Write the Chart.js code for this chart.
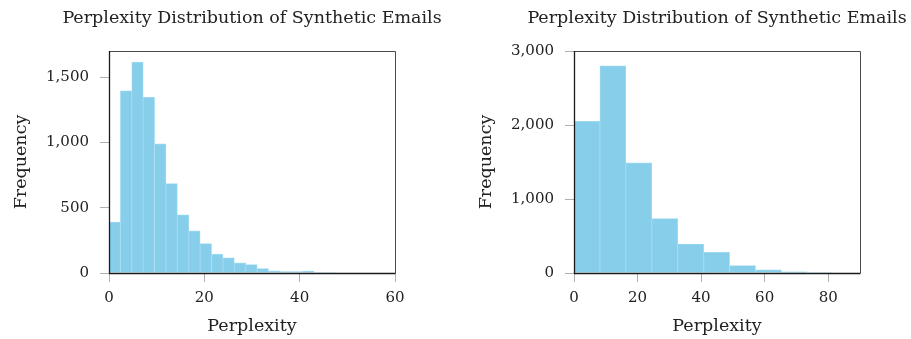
<!DOCTYPE html>
<html>
<head>
<meta charset="utf-8">
<script src="https://cdn.jsdelivr.net/npm/chart.js@4/dist/chart.umd.min.js"></script>
<style>
  html, body { margin: 0; padding: 0; background: #ffffff; }
  body { width: 911px; height: 339px; position: relative; overflow: hidden; }
  .panel { position: absolute; top: 0; height: 339px; }
  #leftPanel { left: 0; width: 465px; }
  #rightPanel { left: 465px; width: 446px; }
</style>
</head>
<body>
<div class="panel" id="leftPanel"><canvas id="leftChart" width="465" height="339"></canvas></div>
<div class="panel" id="rightPanel"><canvas id="rightChart" width="446" height="339"></canvas></div>
<script>
// Histogram bins (centres) and counts, narrow-bin version
const leftBinCenters = [1.195, 3.585, 5.975, 8.365, 10.755, 13.145, 15.535, 17.925, 20.315, 22.705,
                        25.095, 27.485, 29.875, 32.265, 34.655, 37.045, 39.435, 41.825, 44.215, 46.605];
const leftCounts = [390, 1395, 1615, 1345, 990, 685, 445, 322, 226, 144,
                    116, 77, 65, 34, 16, 11, 11, 14, 4, 4];

// Histogram bins (centres) and counts, wide-bin version
const rightBinCenters = [4.08, 12.24, 20.4, 28.56, 36.72, 44.88, 53.04, 61.2, 69.36, 77.52];
const rightCounts = [2050, 2800, 1490, 735, 390, 280, 100, 42, 15, 7];

// Tick values
const leftXTicks = [0, 20, 40, 60];
const leftYTicks = [0, 500, 1000, 1500];
const rightXTicks = [0, 20, 40, 60, 80];
const rightYTicks = [0, 1000, 2000, 3000];

const titleText = 'Perplexity Distribution of Synthetic Emails';
const xTitle = 'Perplexity';
const yTitle = 'Frequency';

const SERIF = "'DejaVu Serif', 'Liberation Serif', serif";
const textColor = '#222222';
const barFill = 'rgb(135, 206, 235)';
const barEdge = 'rgb(165, 220, 242)';

// Axis box: dark left/bottom axis lines, thinner top/right frame
const framePlugin = {
  id: 'frame',
  afterDatasetsDraw(chart) {
    const { ctx, chartArea: a } = chart;
    ctx.save();
    ctx.strokeStyle = '#4a4a4a';
    ctx.lineWidth = 1;
    ctx.beginPath();
    ctx.moveTo(a.left, a.top + 0.5);
    ctx.lineTo(a.right + 0.5, a.top + 0.5);
    ctx.lineTo(a.right + 0.5, a.bottom);
    ctx.stroke();
    ctx.strokeStyle = '#1a1a1a';
    ctx.lineWidth = 1.3;
    ctx.beginPath();
    ctx.moveTo(a.left + 0.5, a.top);
    ctx.lineTo(a.left + 0.5, a.bottom + 0.5);
    ctx.lineTo(a.right + 0.5, a.bottom + 0.5);
    ctx.stroke();
    ctx.restore();
  }
};

// Title centred over the plot area; it is wider than the plot, so it is not width-limited
const plotTitlePlugin = {
  id: 'plotTitle',
  afterDraw(chart, args, opts) {
    const { ctx, chartArea: a } = chart;
    ctx.save();
    ctx.font = `normal ${opts.size}px ${SERIF}`;
    ctx.fillStyle = textColor;
    ctx.textAlign = 'center';
    ctx.textBaseline = 'middle';
    ctx.fillText(opts.text, (a.left + a.right) / 2, opts.y);
    ctx.restore();
  }
};

function makeHistogram(canvasId, centers, counts, xMax, yMax, xTicks, yTicks, padRight) {
  const points = centers.map((c, i) => ({ x: c, y: counts[i] }));
  return new Chart(document.getElementById(canvasId), {
    type: 'bar',
    data: {
      datasets: [{
        data: points,
        backgroundColor: barFill,
        borderColor: barEdge,
        borderWidth: 0.8,
        barPercentage: 1.0,
        categoryPercentage: 1.0,
        borderSkipped: 'bottom'
      }]
    },
    options: {
      responsive: false,
      animation: false,
      devicePixelRatio: 1,
      layout: { padding: { left: 0, right: padRight, top: 51, bottom: 0 } },
      plugins: {
        legend: { display: false },
        tooltip: { enabled: false },
        title: { display: false },
        plotTitle: { text: titleText, size: 17.5, y: 18.5 }
      },
      scales: {
        x: {
          type: 'linear',
          min: 0,
          max: xMax,
          offset: false,
          afterBuildTicks(scale) { scale.ticks = xTicks.map(v => ({ value: v })); },
          afterFit(scale) { scale.height = 66; },
          ticks: {
            color: textColor,
            font: { family: SERIF, size: 15, lineHeight: 1.2 },
            padding: 7,
            maxRotation: 0,
            autoSkip: false
          },
          grid: {
            display: true,
            drawOnChartArea: false,
            drawTicks: true,
            tickLength: 9,
            tickColor: '#b0b0b0',
            tickWidth: 1,
            offset: false
          },
          border: { display: false },
          title: {
            display: true,
            text: xTitle,
            color: textColor,
            font: { family: SERIF, size: 17.5, lineHeight: 1.2 },
            padding: { top: 0, bottom: 2 }
          }
        },
        y: {
          type: 'linear',
          min: 0,
          max: yMax,
          afterBuildTicks(scale) { scale.ticks = yTicks.map(v => ({ value: v })); },
          afterFit(scale) { scale.width = 109; },
          ticks: {
            color: textColor,
            font: { family: SERIF, size: 15, lineHeight: 1.2 },
            padding: 11,
            callback: v => v.toLocaleString('en-US')
          },
          grid: {
            display: true,
            drawOnChartArea: false,
            drawTicks: true,
            tickLength: 9,
            tickColor: '#b0b0b0',
            tickWidth: 1
          },
          border: { display: false },
          title: {
            display: true,
            text: yTitle,
            color: textColor,
            font: { family: SERIF, size: 17.5, lineHeight: 1.2 },
            padding: { top: 10.5, bottom: 0 }
          }
        }
      }
    },
    plugins: [framePlugin, plotTitlePlugin]
  });
}

makeHistogram('leftChart', leftBinCenters, leftCounts, 60, 1700, leftXTicks, leftYTicks, 70);
makeHistogram('rightChart', rightBinCenters, rightCounts, 90, 3000, rightXTicks, rightYTicks, 51);
</script>
</body>
</html>
